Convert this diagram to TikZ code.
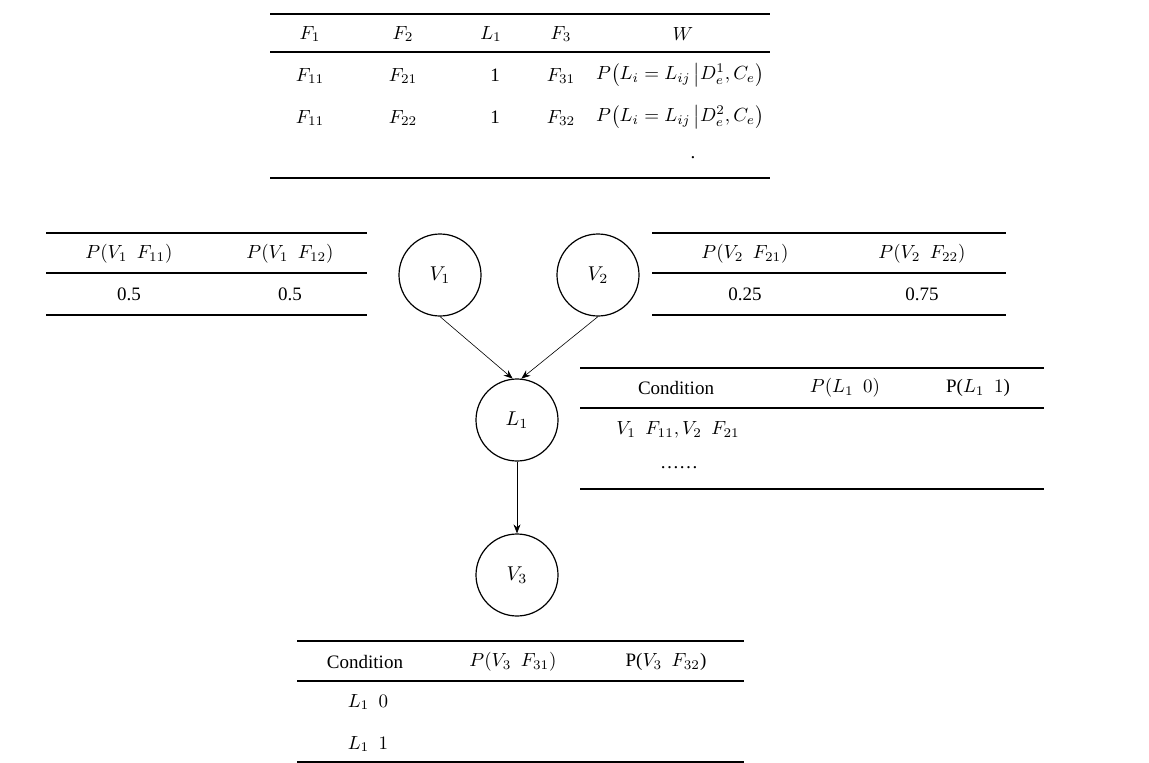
\documentclass[tikz,border=0pt]{standalone}
\usepackage{fontspec}
\setmainfont{Liberation Serif}
\usetikzlibrary{arrows.meta}
\begin{document}
\begin{tikzpicture}[x=1pt,y=-1pt,
  txt/.style={inner sep=0pt, scale=1.9},
  thickrule/.style={line width=2.6pt},
  thinrule/.style={line width=1.6pt},
  bnode/.style={circle, draw, line width=1.2pt, minimum size=82pt, inner sep=0pt},
  arr/.style={-{Stealth[length=9pt,width=7pt]}, line width=0.6pt}]
\useasboundingbox (0,0) rectangle (1149,763);
% ---------- top table ----------
\draw[thickrule] (270,14) -- (770,14);
\draw[thickrule] (270,52) -- (770,52);
\draw[thickrule] (270,178) -- (770,178);
\node[txt] (ha) at (310,34) {$F_1$};
\node[txt] (hb) at (403,34) {$F_2$};
\node[txt] (hc) at (491,34) {$L_1$};
\node[txt] (hd) at (561,34) {$F_3$};
\node[txt] (he) at (683,34) {$W$};
\node[txt] (ra1) at (310,76) {$F_{11}$};
\node[txt] (rb1) at (403,76) {$F_{21}$};
\node[txt] (rc1) at (495,75) {1};
\node[txt] (rd1) at (561,76) {$F_{31}$};
\node[txt] (re1) at (680,75) {$P\bigl(L_i = L_{ij}\,\big|D_e^1, C_e\bigr)$};
\node[txt] (ra2) at (310,118) {$F_{11}$};
\node[txt] (rb2) at (403,118) {$F_{22}$};
\node[txt] (rc2) at (495,117) {1};
\node[txt] (rd2) at (561,118) {$F_{32}$};
\node[txt] (re2) at (680,117) {$P\bigl(L_i = L_{ij}\,\big|D_e^2, C_e\bigr)$};
\node[txt] (dot) at (693,158) {.};
% ---------- left table ----------
\draw[thickrule] (46,233) -- (367,233);
\draw[thickrule] (46,273) -- (367,273);
\draw[thinrule] (46,315) -- (367,315);
\node[txt] (lh1) at (129,254) {$P(V_1\enspace F_{11})$};
\node[txt] (lh2) at (290,254) {$P(V_1\enspace F_{12})$};
\node[txt] (lv1) at (129,294) {0.5};
\node[txt] (lv2) at (290,294) {0.5};
% ---------- right table ----------
\draw[thickrule] (652,233) -- (1006,233);
\draw[thickrule] (652,273) -- (1006,273);
\draw[thinrule] (652,315) -- (1006,315);
\node[txt] (rh1) at (745,254) {$P(V_2\enspace F_{21})$};
\node[txt] (rh2) at (922,254) {$P(V_2\enspace F_{22})$};
\node[txt] (rv1) at (745,294) {0.25};
\node[txt] (rv2) at (922,294) {0.75};
% ---------- middle table ----------
\draw[thickrule] (580,368) -- (1044,368);
\draw[thickrule] (580,408) -- (1044,408);
\draw[thickrule] (580,489) -- (1044,489);
\node[txt] (mh1) at (676,388) {Condition};
\node[txt] (mh2) at (845,388) {$P(L_1\enspace 0)$};
\node[txt] (mh3) at (978,388) {P($L_1\enspace 1$)};
\node[txt] (mr1) at (678,430) {$V_1\enspace F_{11}, V_2\enspace F_{21}$};
\node[txt] (mr2) at (679,468) {……};
% ---------- bottom table ----------
\draw[thickrule] (297,641) -- (744,641);
\draw[thickrule] (297,681) -- (744,681);
\draw[thinrule] (297,762) -- (744,762);
\node[txt] (bh1) at (365,662) {Condition};
\node[txt] (bh2) at (513,662) {$P(V_3\enspace F_{31})$};
\node[txt] (bh3) at (666,662) {P($V_3\enspace F_{32}$)};
\node[txt] (br1) at (368,702) {$L_1\enspace 0$};
\node[txt] (br2) at (368,744) {$L_1\enspace 1$};
% ---------- network ----------
\node[bnode] (V1) at (440,275) {\scalebox{2}{$V_1$}};
\node[bnode] (V2) at (598,275) {\scalebox{2}{$V_2$}};
\node[bnode] (L1) at (517,420) {\scalebox{2}{$L_1$}};
\node[bnode] (V3) at (517,575) {\scalebox{2}{$V_3$}};
\draw[arr] (V1.south) -- (L1.96);
\draw[arr] (V2.south) -- (L1.84);
\draw[arr] (L1.south) -- (V3.north);
\end{tikzpicture}
\end{document}
